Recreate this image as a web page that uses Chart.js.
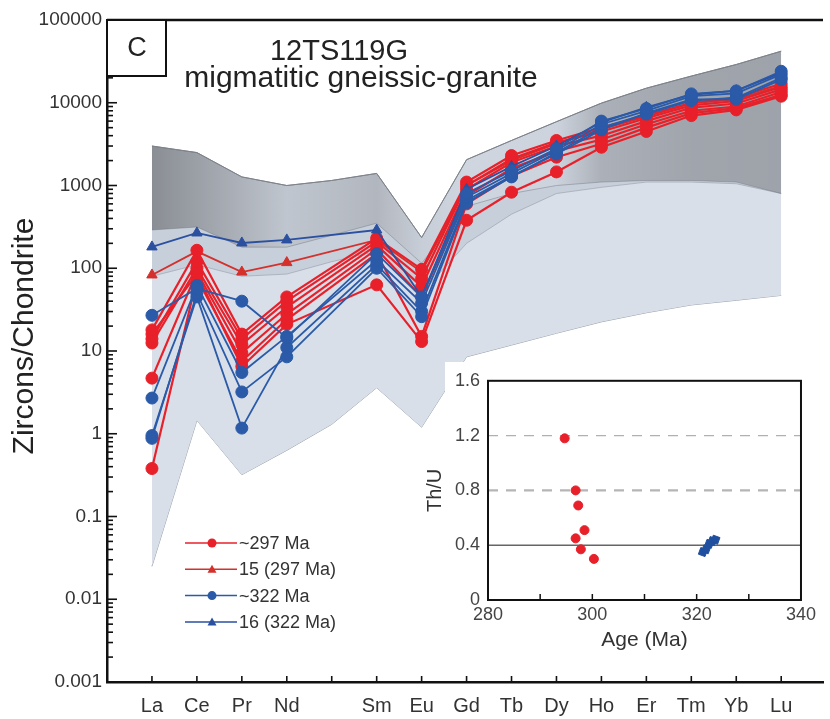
<!DOCTYPE html>
<html><head><meta charset="utf-8">
<script src="https://cdn.jsdelivr.net/npm/chart.js@4"></script>
<style>
html,body{margin:0;padding:0;background:#fff;overflow:hidden;width:830px;height:719px}
#main{position:absolute;left:0;top:0}
#inset{position:absolute;left:420px;top:362px}
</style></head><body>
<canvas id="main" width="830" height="719"></canvas>
<canvas id="inset" width="400" height="303"></canvas>
<script>
// ---------- DATA ----------
const categories = ['La','Ce','Pr','Nd','Pm','Sm','Eu','Gd','Tb','Dy','Ho','Er','Tm','Yb','Lu'];
const yTickValues = [0.001,0.01,0.1,1,10,100,1000,10000,100000];
const yTickLabels = ['0.001','0.01','0.1','1','10','100','1000','10000','100000'];

// reference fields (chondrite-normalised)
const fieldUpper   = [3000,2500,1270,1000,1150,1400,235,2050,3500,5900,9900,15000,21000,29000,42000];
const grayLower    = [290,315,180,180,250,350,115,560,800,1000,1100,1150,1150,1100,800];
const midLower     = [80,110,80,85,120,160,50,200,450,800,950,1100,1100,1050,800];
const fieldLower   = [0.025,1.45,0.32,0.63,1.3,3.6,1.2,8.5,11.8,16.4,22.5,29,36,41,47];

// ~297 Ma spots
const r297_1 = [18,165,16,45,null,230,97,1100,2300,3500,5000,7000,10000,11500,17000];
const r297_2 = [14,120,14,40,null,210,75,1000,2100,3300,4500,6500,9300,10500,15500];
const r297_3 = [12.5,100,12,34,null,190,60,900,1900,3000,4000,6000,8700,9800,14500];
const r297_4 = [4.7,90,9.5,28,null,170,45,750,1600,2600,3600,5500,8000,9000,13500];
const r297_5 = [0.38,75,7.5,24,null,150,15,600,1300,2200,3200,5000,7500,8600,12500];
const r297_6 = [16,85,6.5,21,null,63,13,380,830,1460,2900,4500,7000,8200,12000];
// spot 15 (297 Ma)
const t15 = [83,160,90,117,null,220,90,1000,2000,3200,4800,6800,9800,11000,16000];
// ~322 Ma spots
const b322_1 = [27,57,40,14.4,null,150,45,800,1500,2800,6000,8500,12800,13900,24000];
const b322_2 = [2.7,62,5.5,15,null,125,38,720,1400,2650,5500,8000,12000,13000,22000];
const b322_3 = [0.88,50,3.2,8.5,null,100,26,620,1270,2500,5000,7300,10600,11500,20000];
const b322_4 = [0.95,45,1.17,11,null,110,30,660,1300,2400,4700,7500,11000,11000,19000];
// spot 16 (322 Ma)
const t16 = [181,267,202,220,null,290,45,900,1700,3000,5800,8800,12500,14000,23000];

const legendLabels = ['~297 Ma','15 (297 Ma)','~322 Ma','16 (322 Ma)'];

// inset Th/U vs age
const redAge  = [294.7,296.8,297.3,298.5,296.8,297.8,300.3];
const redThU  = [1.18,0.80,0.69,0.51,0.45,0.37,0.30];
const blueAge = [321.2,321.8,322.4,323.0,323.6];
const blueThU = [0.35,0.37,0.41,0.43,0.44];
const insetXTicks = [280,300,320,340];
const insetYTicks = [0,0.4,0.8,1.2,1.6];
const insetInnerTicks = [290,300,310,320,330];
const refLines = [0.4,0.8,1.2];

// ---------- STYLE ----------
const FONT = '"Liberation Sans", Arial, Helvetica, sans-serif';
Chart.defaults.font.family = FONT;
const RED = '#e8202a', RED_T = '#d4302c', BLUE = '#2a5aa8', BLUE_T = '#2b50a0';

function pts(vals){ return vals.map((v,i)=> v==null?null:{x:i,y:v}).filter(p=>p); }

function grayGradient(context){
  const chart = context.chart; const {ctx, chartArea, scales} = chart;
  if(!chartArea || !scales.x) return 'rgba(110,112,118,0.4)';
  const x0 = scales.x.getPixelForValue(0), x1 = scales.x.getPixelForValue(14);
  const g = ctx.createLinearGradient(x0,0,x1,0);
  const stops = [[0,0.70],[1,0.55],[3,0.22],[5,0.35],[6,0.15],[7,0.08],[9,0.10],[10,0.40],[12,0.50],[14,0.52]];
  stops.forEach(([i,a])=> g.addColorStop(i/14, 'rgba(105,107,112,'+a+')'));
  return g;
}

function band(vals, fill, bg, bc, order){
  return {type:'line', data:pts(vals), fill: fill, backgroundColor:bg, borderColor:bc, borderWidth:1,
          pointRadius:0, tension:0, order:order};
}
function series(vals, color, style, order, bw){
  return {type:'line', data:pts(vals), borderColor:color, backgroundColor:color, borderWidth:bw,
          pointStyle:style, pointRadius:6, pointBorderWidth:1, pointBackgroundColor:color,
          pointBorderColor:color, fill:false, tension:0, order:order};
}

const datasets = [
  band(fieldUpper, '+1', '#d8dfe9', '#8d96a3', 12),
  band(fieldLower, false, 'transparent', '#9aa3ae', 12),
  band(grayLower, '+1', 'rgba(140,148,162,0.22)', 'rgba(130,135,145,0.55)', 11),
  band(midLower, false, 'transparent', 'rgba(140,145,155,0.5)', 11),
  band(fieldUpper, '+1', grayGradient, '#7e8288', 10),
  band(grayLower, false, 'transparent', 'rgba(0,0,0,0)', 10),
  series(b322_1, BLUE, 'circle', 2, 1.8),
  series(b322_2, BLUE, 'circle', 2, 1.8),
  series(b322_3, BLUE, 'circle', 2, 1.8),
  series(b322_4, BLUE, 'circle', 2, 1.8),
  series(t16, BLUE_T, 'triangle', 2, 1.8),
  series(r297_1, RED, 'circle', 3, 2.2),
  series(r297_2, RED, 'circle', 3, 2.2),
  series(r297_3, RED, 'circle', 3, 2.2),
  series(r297_4, RED, 'circle', 3, 2.2),
  series(r297_5, RED, 'circle', 3, 2.2),
  series(r297_6, RED, 'circle', 3, 2.2),
  series(t15, RED_T, 'triangle', 3, 1.8)
];

const legendStyles = [
  {color:RED, style:'circle'},{color:RED_T, style:'triangle'},
  {color:BLUE, style:'circle'},{color:BLUE_T, style:'triangle'}
];

const decor = {
  id:'decor',
  afterDraw(chart){
    const {ctx, chartArea:a, scales:{x,y}} = chart;
    ctx.save();
    ctx.strokeStyle='#111'; ctx.lineWidth=2.5;
    ctx.beginPath(); ctx.moveTo(a.left, a.top); ctx.lineTo(a.right, a.top); ctx.stroke();
    ctx.lineWidth=1.6; ctx.strokeStyle='#111';
    for(let d=-3; d<=5; d++){
      for(let k=1;k<=9;k++){
        const v = k*Math.pow(10,d); if(v>100000) break;
        const py = y.getPixelForValue(v);
        const len = k===1?10:6;
        ctx.beginPath(); ctx.moveTo(a.left, py); ctx.lineTo(a.left+len, py); ctx.stroke();
      }
    }
    categories.forEach((c,i)=>{
      const px = x.getPixelForValue(i);
      ctx.beginPath(); ctx.moveTo(px, a.bottom); ctx.lineTo(px, a.bottom-6); ctx.stroke();
    });
    ctx.fillStyle='#fff'; ctx.fillRect(a.left, a.top, 59, 56);
    ctx.lineWidth=2; ctx.strokeRect(a.left, a.top, 59, 56);
    ctx.fillStyle='#222'; ctx.font='27px '+FONT; ctx.textAlign='center'; ctx.textBaseline='middle';
    ctx.fillText('C', a.left+30, a.top+29);
    ctx.textBaseline='alphabetic';
    ctx.font='29px '+FONT; ctx.fillText('12TS119G', 339, 60);
    ctx.font='30px '+FONT; ctx.fillText('migmatitic gneissic-granite', 361, 87);
    ctx.save(); ctx.translate(25, 336); ctx.rotate(-Math.PI/2);
    ctx.textBaseline='middle'; ctx.fillStyle='#222'; ctx.font='30px '+FONT;
    ctx.fillText('Zircons/Chondrite', 0, 0); ctx.restore();
    ctx.font='18px '+FONT; ctx.textAlign='left'; ctx.textBaseline='middle';
    legendLabels.forEach((lab,i)=>{
      const ly = 543 + i*26.3; const st = legendStyles[i];
      ctx.strokeStyle=st.color; ctx.lineWidth=1.5;
      ctx.beginPath(); ctx.moveTo(185, ly); ctx.lineTo(237, ly); ctx.stroke();
      ctx.fillStyle=st.color;
      if(st.style==='circle'){ ctx.beginPath(); ctx.arc(212, ly, 4.5, 0, Math.PI*2); ctx.fill(); }
      else { ctx.beginPath(); ctx.moveTo(212, ly-4.5); ctx.lineTo(216.5, ly+3.5); ctx.lineTo(207.5, ly+3.5); ctx.closePath(); ctx.fill(); }
      ctx.fillStyle='#333'; ctx.fillText(lab, 239, ly+1);
    });
    ctx.restore();
  }
};

new Chart(document.getElementById('main'), {
  type:'line',
  data:{datasets},
  options:{
    responsive:false, animation:false, devicePixelRatio:1,
    layout:{padding:{top:20,right:0,left:0,bottom:0}},
    plugins:{legend:{display:false}, tooltip:{enabled:false}},
    scales:{
      x:{type:'linear', min:-1, max:14.93,
         afterBuildTicks:s=>{ s.ticks = categories.map((c,i)=>({value:i})); },
         ticks:{callback:v=> categories[v]==='Pm' ? '' : categories[v], font:{size:20}, color:'#333', padding:12, autoSkip:false, maxRotation:0},
         grid:{display:false, drawTicks:false},
         border:{display:true, color:'#111', width:2.5},
         afterFit:s=>{ s.height = 37; }},
      y:{type:'logarithmic', min:0.001, max:100000,
         afterBuildTicks:s=>{ s.ticks = yTickValues.map(v=>({value:v})); },
         ticks:{callback:(v,i)=> yTickLabels[i], font:{size:19}, color:'#333', padding:5, autoSkip:false},
         grid:{display:false, drawTicks:false},
         border:{display:true, color:'#111', width:2.5},
         afterFit:s=>{ s.width = 107; }}
    }
  },
  plugins:[decor]
});

// ---------- INSET ----------
const insetDecor = {
  id:'insetDecor',
  beforeDraw(chart){
    const {ctx, width, height} = chart;
    ctx.save(); ctx.fillStyle='#fff'; ctx.fillRect(25,0,width-25,height); ctx.restore();
  },
  beforeDatasetsDraw(chart){
    const {ctx, chartArea:a, scales:{y}} = chart;
    ctx.save();
    refLines.forEach(v=>{
      const py = y.getPixelForValue(v);
      if(v===0.4){ ctx.setLineDash([]); ctx.strokeStyle='#666'; ctx.lineWidth=1.5; }
      else if(v===0.8){ ctx.setLineDash([10,8]); ctx.strokeStyle='#b5b5b5'; ctx.lineWidth=2.2; }
      else { ctx.setLineDash([10,8]); ctx.strokeStyle='#b0b0b0'; ctx.lineWidth=1.4; }
      ctx.beginPath(); ctx.moveTo(a.left, py); ctx.lineTo(a.right, py); ctx.stroke();
    });
    ctx.restore();
  },
  afterDraw(chart){
    const {ctx, chartArea:a, scales:{x}} = chart;
    ctx.save();
    ctx.strokeStyle='#111'; ctx.lineWidth=2;
    ctx.strokeRect(a.left, a.top, a.right-a.left, a.bottom-a.top);
    ctx.lineWidth=1.5;
    insetInnerTicks.forEach(v=>{
      const px = x.getPixelForValue(v);
      ctx.beginPath(); ctx.moveTo(px, a.bottom); ctx.lineTo(px, a.bottom-6); ctx.stroke();
    });
    ctx.restore();
  }
};

new Chart(document.getElementById('inset'), {
  type:'scatter',
  data:{datasets:[
    {data: redAge.map((a,i)=>({x:a,y:redThU[i]})), pointStyle:'circle', pointRadius:4.5,
     backgroundColor:RED, borderColor:RED, borderWidth:1},
    {data: blueAge.map((a,i)=>({x:a,y:blueThU[i]})), pointStyle:'rect', pointRadius:5, rotation:20,
     backgroundColor:'#1f4f9f', borderColor:'#1f4f9f', borderWidth:1}
  ]},
  options:{
    responsive:false, animation:false, devicePixelRatio:1,
    layout:{padding:{top:8,right:18,left:0,bottom:0}},
    plugins:{legend:{display:false}, tooltip:{enabled:false}},
    scales:{
      x:{type:'linear', min:280, max:340,
         afterBuildTicks:s=>{ s.ticks = insetXTicks.map(v=>({value:v})); },
         ticks:{callback:v=>String(v), font:{size:18}, color:'#444', padding:4, maxRotation:0},
         grid:{display:false, drawTicks:false}, border:{display:false},
         title:{display:true, text:'Age (Ma)', font:{size:21}, color:'#333', padding:{top:0,bottom:12}},
         afterFit:s=>{ s.height = 65; }},
      y:{type:'linear', min:0, max:1.6,
         afterBuildTicks:s=>{ s.ticks = insetYTicks.map(v=>({value:v})); },
         ticks:{callback:v=> v===0 ? '0' : v.toFixed(1), font:{size:18}, color:'#444', padding:8},
         grid:{display:false, drawTicks:false}, border:{display:false},
         title:{display:true, text:'Th/U', font:{size:20}, color:'#333', padding:{top:3,bottom:0}},
         afterFit:s=>{ s.width = 68; }}
    }
  },
  plugins:[insetDecor]
});
</script>
</body></html>
